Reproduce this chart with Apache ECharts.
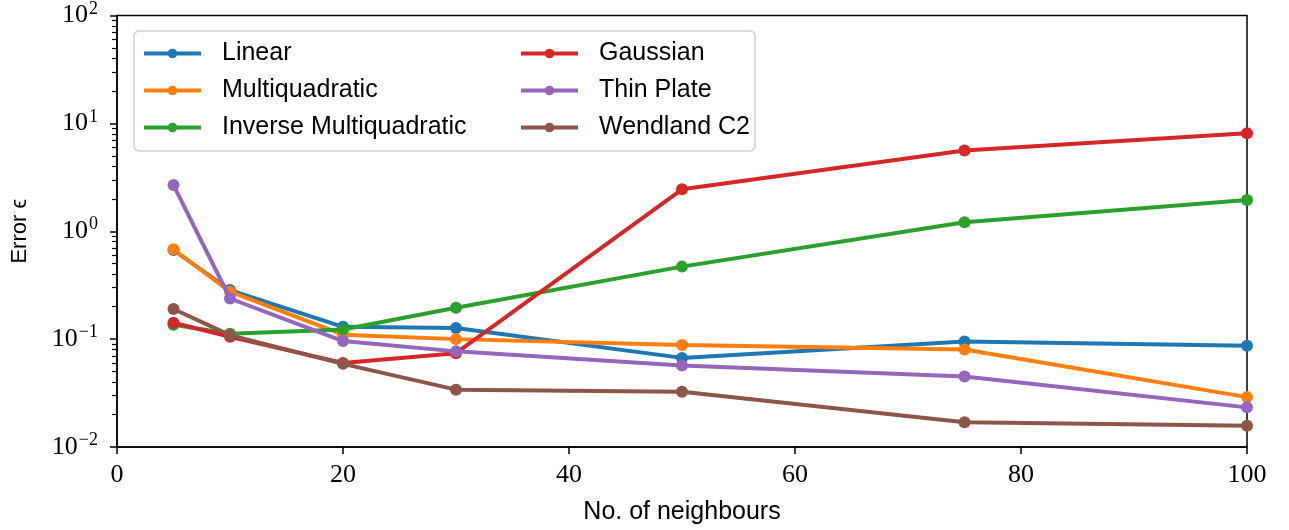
<!DOCTYPE html>
<html>
<head>
<meta charset="utf-8">
<script src="https://cdn.jsdelivr.net/npm/echarts@6/dist/echarts.min.js"></script>
<style>
  html, body { margin: 0; padding: 0; background: #fff; }
  #chart { width: 1289px; height: 530px; }
</style>
</head>
<body>
<div id="chart"></div>
<script>
// neighbours on the x axis
const neighbours = [5, 10, 20, 30, 50, 75, 100];

// error per kernel
const linear = [0.67, 0.285, 0.130, 0.127, 0.067, 0.095, 0.087];
const multiquadratic = [0.68, 0.275, 0.110, 0.100, 0.088, 0.080, 0.029];
const inverseMultiquadratic = [0.136, 0.112, 0.123, 0.195, 0.470, 1.21, 1.95];
const gaussian = [0.142, 0.105, 0.060, 0.074, 2.45, 5.6, 8.1];
const thinPlate = [2.68, 0.238, 0.096, 0.077, 0.057, 0.045, 0.0233];
const wendlandC2 = [0.19, 0.109, 0.059, 0.034, 0.0325, 0.0170, 0.0157];

const seriesNames = ['Linear', 'Multiquadratic', 'Inverse Multiquadratic', 'Gaussian', 'Thin Plate', 'Wendland C2'];
const seriesData = [linear, multiquadratic, inverseMultiquadratic, gaussian, thinPlate, wendlandC2];
const colors = ['#1f77b4', '#ff7f0e', '#2ca02c', '#d62728', '#9467bd', '#8c564b'];

// minor ticks 2..9 of each decade, as exponents (for a helper value axis)
const yMinorExp = [];
for (let e = -2; e < 2; e++) {
  for (let m = 2; m <= 9; m++) yMinorExp.push(e + Math.log10(m));
}

const serif = 'Liberation Serif';
const sans = 'Liberation Sans';

let myChart = echarts.init(document.getElementById('chart'), null, { renderer: 'canvas' });

let series = seriesNames.map((name, i) => ({
  name: name,
  type: 'line',
  data: neighbours.map((x, j) => [x, seriesData[i][j]]),
  color: colors[i],
  symbol: 'circle',
  symbolSize: 12,
  lineStyle: { width: 4, color: colors[i] },
  itemStyle: { color: colors[i] },
  z: 2 + i * 0.01,
  emphasis: { disabled: true }
}));

let legendCommon = {
  orient: 'vertical',
  itemWidth: 57,
  itemHeight: 12,
  itemGap: 12,
  padding: 0,
  top: 41,
  z: 10,
  lineStyle: { width: 4 },
  textStyle: { fontFamily: sans, fontSize: 25, color: '#000', padding: [0, 0, 0, 16] },
  selectedMode: false
};

let option = {
  animation: false,
  color: colors,
  grid: {
    left: 117, right: 42, top: 11, bottom: 83,
    show: true, borderColor: '#000', borderWidth: 1.5
  },
  legend: [
    Object.assign({}, legendCommon, { left: 142, data: seriesNames.slice(0, 3) }),
    Object.assign({}, legendCommon, { left: 519, data: seriesNames.slice(3) })
  ],
  graphic: [{
    type: 'rect',
    z: 9,
    shape: { x: 134, y: 31, width: 621, height: 120, r: 5 },
    style: { fill: 'rgba(255,255,255,0.85)', stroke: '#d0d0d0', lineWidth: 1.5 }
  }],
  xAxis: {
    type: 'value',
    min: 0, max: 100, interval: 20,
    name: 'No. of neighbours',
    nameLocation: 'middle',
    nameGap: 53,
    nameTextStyle: { fontFamily: sans, fontSize: 25, color: '#000' },
    axisLine: { onZero: false, lineStyle: { color: '#000', width: 1.5 } },
    axisTick: { show: true, length: 7, lineStyle: { color: '#000', width: 1.5 } },
    axisLabel: { fontFamily: serif, fontSize: 26, color: '#000', margin: 15 },
    splitLine: { show: false }
  },
  yAxis: [{
    type: 'log',
    logBase: 10,
    min: 0.01, max: 100,
    name: 'Error ϵ',
    nameLocation: 'middle',
    nameRotate: 90,
    nameGap: 86,
    nameTextStyle: { fontFamily: sans, fontSize: 22, color: '#000' },
    axisLine: { lineStyle: { color: '#000', width: 1.5 } },
    axisTick: { show: true, length: 7, lineStyle: { color: '#000', width: 1.5 } },
    axisLabel: {
      margin: 19,
      formatter: function (v) {
        let e = Math.round(Math.log10(v));
        let s = e < 0 ? '\u2212' + Math.abs(e) : String(e);
        return '{b|10}{e|' + s + '}';
      },
      rich: {
        b: { fontFamily: serif, fontSize: 26, color: '#000' },
        e: { fontFamily: serif, fontSize: 18, color: '#000', padding: [0, 0, 13, 1] }
      }
    },
    splitLine: { show: false }
  }, {
    // helper axis only for the log minor ticks
    type: 'value',
    min: -2, max: 2,
    position: 'left',
    axisLine: { show: false, onZero: false },
    axisTick: { show: true, length: 5, lineStyle: { color: '#000', width: 1.2 }, customValues: yMinorExp },
    axisLabel: { show: false, customValues: yMinorExp },
    splitLine: { show: false }
  }],
  series: series
};

myChart.setOption(option);
</script>
</body>
</html>
